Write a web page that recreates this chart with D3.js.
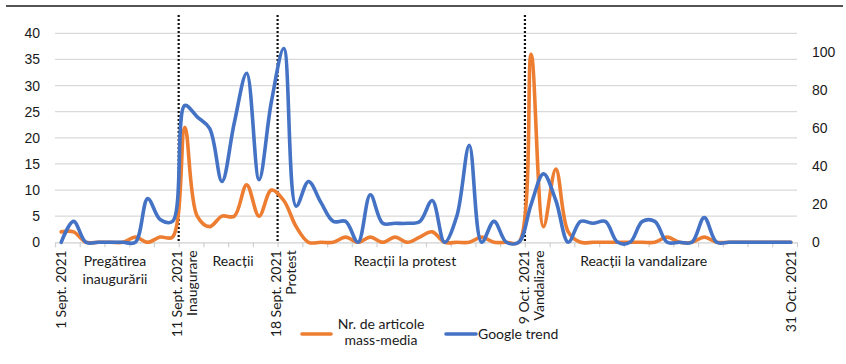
<!DOCTYPE html>
<html>
<head>
<meta charset="utf-8">
<script src="https://cdn.jsdelivr.net/npm/d3@7"></script>
<style>
  html, body { margin: 0; padding: 0; background: #fff; }
  svg { display: block; font-family: Lato, "Open Sans", sans-serif; }
  .tick text { fill: #1a1a1a; font-size: 14px; }
</style>
</head>
<body>
<svg id="chart" width="846" height="364"></svg>
<script>
// Daily counts, 1 Sept. – 31 Oct. 2021 (60 categories)
const articles = [2, 2, 0, 0, 0, 0, 1, 0, 1, 1,
                  22, 5, 3, 5, 5, 11, 5, 10, 8, 3,
                  0, 0, 0, 1, 0, 1, 0, 1, 0, 1,
                  2, 0, 0, 0, 1, 0, 0, 0, 36, 3,
                  14, 2, 0, 0, 0, 0, 0, 0, 0, 1,
                  0, 0, 1, 0, 0, 0, 0, 0, 0, 0];
const googleTrend = [0, 11, 0, 0, 0, 0, 0, 23, 12, 11,
                     72, 66, 60, 32, 63, 89, 33, 74, 102, 19,
                     32, 21, 11, 11, 0, 25, 10, 10, 10, 11,
                     22, 0, 14, 51, 0, 11, 0, 0, 20, 36,
                     22, 0, 11, 10, 11, 0, 0, 11, 11, 0,
                     0, 0, 13, 0, 0, 0, 0, 0, 0, 0];

const leftTicks = [0, 5, 10, 15, 20, 25, 30, 35, 40];
const rightTicks = [0, 20, 40, 60, 80, 100];

// Rotated date labels: category index and text lines
const dateLabels = [
  { i: 0,  lines: ["1 Sept. 2021"] },
  { i: 10, lines: ["11 Sept. 2021", "Inaugurare"] },
  { i: 18, lines: ["18 Sept. 2021", "Protest"] },
  { i: 38, lines: ["9 Oct. 2021", "Vandalizare"] },
  { i: 59, lines: ["31 Oct. 2021"] }
];
// Event markers (dotted lines) at the start of these categories
const eventStarts = [10, 18, 38];
// Period captions: center position in category units
const periodLabels = [
  { c: 4.35, lines: ["Pregătirea", "inaugurării"] },
  { c: 13.9, lines: ["Reacții"] },
  { c: 27.8, lines: ["Reacții la protest"] },
  { c: 47.1, lines: ["Reacții la vandalizare"] }
];
const seriesNames = ["Nr. de articole|mass-media", "Google trend"];

const N = articles.length;
const svg = d3.select("#chart");
const plotLeft = 55, plotRight = 797, plotTop = 33.3, plotBottom = 242.3;

const x = d3.scaleLinear().domain([0, N]).range([plotLeft, plotRight]);
const yL = d3.scaleLinear().domain([0, 40]).range([plotBottom, plotTop]);
const yR = d3.scaleLinear().domain([0, 110]).range([plotBottom, plotTop]);

svg.append("rect").attr("width", 846).attr("height", 364).attr("fill", "#fff");

// top rule
svg.append("line").attr("x1", 6).attr("x2", 843).attr("y1", 6).attr("y2", 6)
  .attr("stroke", "#1a1a1a").attr("stroke-width", 1.5);

// gridlines
svg.append("g").selectAll("line").data(leftTicks.filter(d => d > 0)).join("line")
  .attr("x1", plotLeft).attr("x2", plotRight)
  .attr("y1", d => yL(d)).attr("y2", d => yL(d))
  .attr("stroke", "#d9d9d9").attr("stroke-width", 1.2);

// left axis
const gL = svg.append("g").attr("transform", `translate(${plotLeft},0)`)
  .call(d3.axisLeft(yL).tickValues(leftTicks).tickSize(0).tickPadding(15));
gL.select(".domain").remove();

// right axis
const gR = svg.append("g").attr("transform", `translate(${plotRight},0)`)
  .call(d3.axisRight(yR).tickValues(rightTicks).tickSize(0).tickPadding(15));
gR.select(".domain").remove();

// category axis with tick marks every two categories
const gX = svg.append("g").attr("transform", `translate(0,${plotBottom})`)
  .call(d3.axisBottom(x).tickValues(d3.range(0, N + 1, 2)).tickFormat("").tickSize(5).tickSizeOuter(0));
gX.select(".domain").attr("stroke", "#d0d0d0").attr("stroke-width", 1.2);
gX.selectAll(".tick line").attr("stroke", "#d0d0d0").attr("stroke-width", 1.2);

// event markers
svg.append("g").selectAll("line").data(eventStarts).join("line")
  .attr("x1", d => x(d)).attr("x2", d => x(d))
  .attr("y1", 15).attr("y2", plotBottom)
  .attr("stroke", "#111").attr("stroke-width", 2.2).attr("stroke-dasharray", "2,2");

// series
const cx = i => x(i + 0.5);
const curve = d3.curveCatmullRom.alpha(0.5);
const lineL = d3.line().x((d, i) => cx(i)).y(d => yL(d)).curve(curve);
const lineR = d3.line().x((d, i) => cx(i)).y(d => yR(d)).curve(curve);

svg.append("path").datum(articles).attr("d", lineL)
  .attr("fill", "none").attr("stroke", "#ED7D31").attr("stroke-width", 3.6)
  .attr("stroke-linejoin", "round").attr("stroke-linecap", "round");
svg.append("path").datum(googleTrend).attr("d", lineR)
  .attr("fill", "none").attr("stroke", "#4472C4").attr("stroke-width", 3.6)
  .attr("stroke-linejoin", "round").attr("stroke-linecap", "round");

// rotated date labels
const lineGap = 15;
dateLabels.forEach(lab => {
  const n = lab.lines.length;
  lab.lines.forEach((t, k) => {
    const off = (k - (n - 1) / 2) * lineGap;
    svg.append("text")
      .attr("transform", `translate(${cx(lab.i) + off},${plotBottom + 8}) rotate(-90)`)
      .attr("text-anchor", "end").attr("dy", "0.35em")
      .attr("font-size", 14).attr("fill", "#1a1a1a")
      .text(t);
  });
});

// period captions
periodLabels.forEach(p => {
  p.lines.forEach((t, k) => {
    svg.append("text")
      .attr("x", x(p.c + 0.5)).attr("y", 266 + k * 18)
      .attr("text-anchor", "middle").attr("font-size", 14).attr("fill", "#1a1a1a")
      .text(t);
  });
});

// legend
const legend = svg.append("g");
legend.append("line").attr("x1", 302).attr("x2", 331).attr("y1", 334).attr("y2", 334)
  .attr("stroke", "#ED7D31").attr("stroke-width", 3.6).attr("stroke-linecap", "round");
seriesNames[0].split("|").forEach((t, k) => {
  legend.append("text").attr("x", 381).attr("y", 329 + k * 16)
    .attr("text-anchor", "middle").attr("font-size", 14).attr("fill", "#1a1a1a").text(t);
});
legend.append("line").attr("x1", 446).attr("x2", 476).attr("y1", 334).attr("y2", 334)
  .attr("stroke", "#4472C4").attr("stroke-width", 3.6).attr("stroke-linecap", "round");
legend.append("text").attr("x", 478).attr("y", 339)
  .attr("font-size", 14).attr("fill", "#1a1a1a").text(seriesNames[1]);
</script>
</body>
</html>
